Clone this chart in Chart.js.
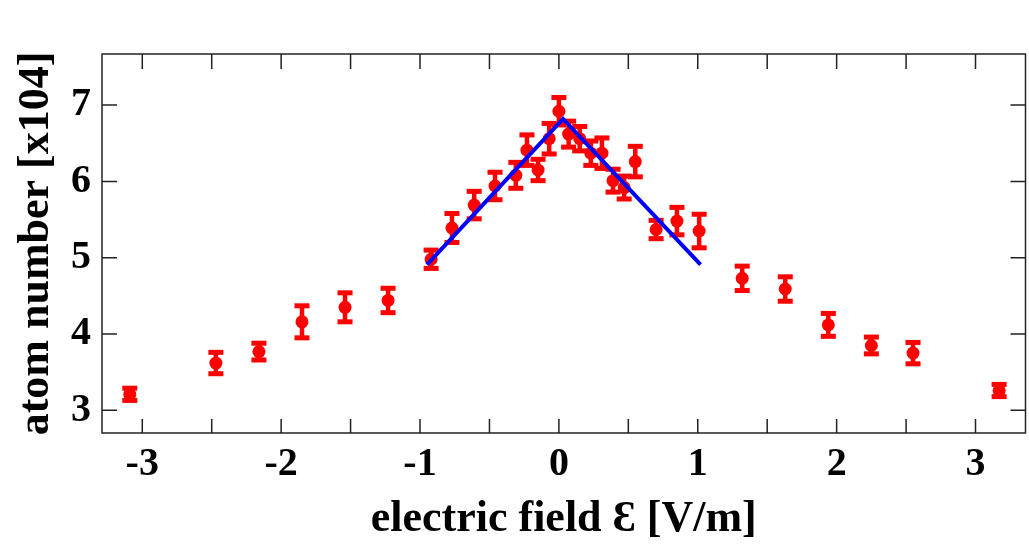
<!DOCTYPE html>
<html>
<head>
<meta charset="utf-8">
<title>atom number vs electric field</title>
<script src="https://cdn.jsdelivr.net/npm/chart.js@4.4.1/dist/chart.umd.min.js"></script>
<style>
  html, body { margin: 0; padding: 0; background: #fff; overflow: hidden; }
  #wrap { width: 1029px; height: 551px; overflow: hidden; }
</style>
</head>
<body>
<div id="wrap"><canvas id="chart" width="1032" height="551"></canvas></div>
<script>
// measured points (field in V/m, atom number in units of 10^4)
const fieldValues = [-3.09, -2.47, -2.16, -1.85, -1.54, -1.23, -0.92, -0.77, -0.61, -0.46,
  -0.31, -0.23, -0.15, -0.07, 0.00, 0.07, 0.15, 0.23, 0.31, 0.39,
  0.47, 0.55, 0.70, 0.85, 1.01, 1.32, 1.63, 1.94, 2.25, 2.55, 3.17];
const atomCounts = [3.21, 3.62, 3.77, 4.16, 4.35, 4.44, 4.98, 5.39, 5.69, 5.94,
  6.08, 6.41, 6.15, 6.56, 6.92, 6.62, 6.56, 6.37, 6.37, 6.01,
  5.92, 6.26, 5.37, 5.48, 5.35, 4.73, 4.59, 4.12, 3.85, 3.75, 3.26];
const atomErrors = [0.08, 0.14, 0.11, 0.21, 0.19, 0.16, 0.12, 0.19, 0.18, 0.18,
  0.17, 0.20, 0.14, 0.20, 0.18, 0.17, 0.16, 0.16, 0.20, 0.15,
  0.15, 0.20, 0.12, 0.18, 0.22, 0.16, 0.16, 0.15, 0.11, 0.14, 0.08];

// linear fit (blue)
const fitField = [-0.95, 0.03, 1.02];
const fitAtoms = [4.91, 6.82, 4.91];

const xTickValues = [-3, -2, -1, 0, 1, 2, 3];
const xMinorValues = [-3, -2.5, -2, -1.5, -1, -0.5, 0, 0.5, 1, 1.5, 2, 2.5, 3];
const yTickValues = [3, 4, 5, 6, 7];

const serif = '"Liberation Serif", "DejaVu Serif", "Times New Roman", serif';

// error bars with caps, drawn under the markers
const errorBars = {
  id: 'errorBars',
  beforeDatasetsDraw(chart) {
    const { ctx, scales: { x, y } } = chart;
    ctx.save();
    ctx.strokeStyle = '#ff0000';
    ctx.fillStyle = '#ff0000';
    ctx.lineWidth = 4.5;
    fieldValues.forEach((v, i) => {
      const px = x.getPixelForValue(v);
      const top = y.getPixelForValue(atomCounts[i] + atomErrors[i]);
      const bot = y.getPixelForValue(atomCounts[i] - atomErrors[i]);
      ctx.beginPath();
      ctx.moveTo(px, top);
      ctx.lineTo(px, bot);
      ctx.stroke();
      ctx.fillRect(px - 7.5, top - 2.5, 15, 5);
      ctx.fillRect(px - 7.5, bot - 2.5, 15, 5);
    });
    ctx.restore();
  }
};

// box frame with inward ticks on all four sides
const frameTicks = {
  id: 'frameTicks',
  afterDraw(chart) {
    const { ctx, chartArea: a, scales: { x, y } } = chart;
    ctx.save();
    ctx.strokeStyle = '#222';
    ctx.lineWidth = 1.5;
    ctx.strokeRect(a.left, a.top, a.right - a.left, a.bottom - a.top);
    ctx.beginPath();
    xMinorValues.forEach(v => {
      const px = x.getPixelForValue(v);
      ctx.moveTo(px, a.bottom);
      ctx.lineTo(px, a.bottom - 14);
      ctx.moveTo(px, a.top);
      ctx.lineTo(px, a.top + 15);
    });
    yTickValues.forEach(v => {
      const py = y.getPixelForValue(v);
      ctx.moveTo(a.left, py);
      ctx.lineTo(a.left + 15, py);
      ctx.moveTo(a.right, py);
      ctx.lineTo(a.right - 15, py);
    });
    ctx.stroke();
    ctx.restore();
  }
};

new Chart(document.getElementById('chart'), {
  type: 'scatter',
  data: {
    datasets: [
      {
        label: 'fit',
        data: fitField.map((v, i) => ({ x: v, y: fitAtoms[i] })),
        showLine: true,
        borderColor: '#0000ff',
        borderWidth: 4,
        pointRadius: 0,
        fill: false,
      },
      {
        label: 'atom number',
        data: fieldValues.map((v, i) => ({ x: v, y: atomCounts[i] })),
        backgroundColor: '#ff0000',
        borderWidth: 0,
        pointRadius: 6.5,
      },
    ],
  },
  options: {
    responsive: false,
    animation: false,
    layout: { padding: { top: 54, right: 0, left: 0, bottom: 0 } },
    plugins: {
      legend: { display: false },
      tooltip: { enabled: false },
    },
    scales: {
      x: {
        type: 'linear',
        min: -3.29,
        max: 3.36,
        afterBuildTicks: (scale) => { scale.ticks = xTickValues.map(v => ({ value: v })); },
        afterFit: (scale) => {
          scale.height = 118;
          scale.paddingLeft = 0;
          scale.paddingRight = 0;
        },
        grid: { display: false, drawTicks: false },
        border: { display: false },
        ticks: {
          padding: 8,
          color: '#000',
          font: { family: serif, size: 40, weight: 'bold' },
        },
        title: {
          display: true,
          text: 'electric field Ɛ [V/m]',
          color: '#000',
          font: { family: serif, size: 44, weight: 'bold' },
          padding: { top: 0, bottom: 5 },
        },
      },
      y: {
        type: 'linear',
        min: 2.703,
        max: 7.67,
        afterBuildTicks: (scale) => { scale.ticks = yTickValues.map(v => ({ value: v })); },
        afterFit: (scale) => {
          scale.width = 102;
          scale.paddingTop = 0;
          scale.paddingBottom = 0;
        },
        grid: { display: false, drawTicks: false },
        border: { display: false },
        ticks: {
          padding: 11,
          color: '#000',
          font: { family: serif, size: 40, weight: 'bold' },
        },
        title: {
          display: true,
          text: 'atom number [x104]',
          color: '#000',
          font: { family: serif, size: 44, weight: 'bold' },
          padding: { top: 10, bottom: 0 },
        },
      },
    },
  },
  plugins: [errorBars, frameTicks],
});
</script>
</body>
</html>
